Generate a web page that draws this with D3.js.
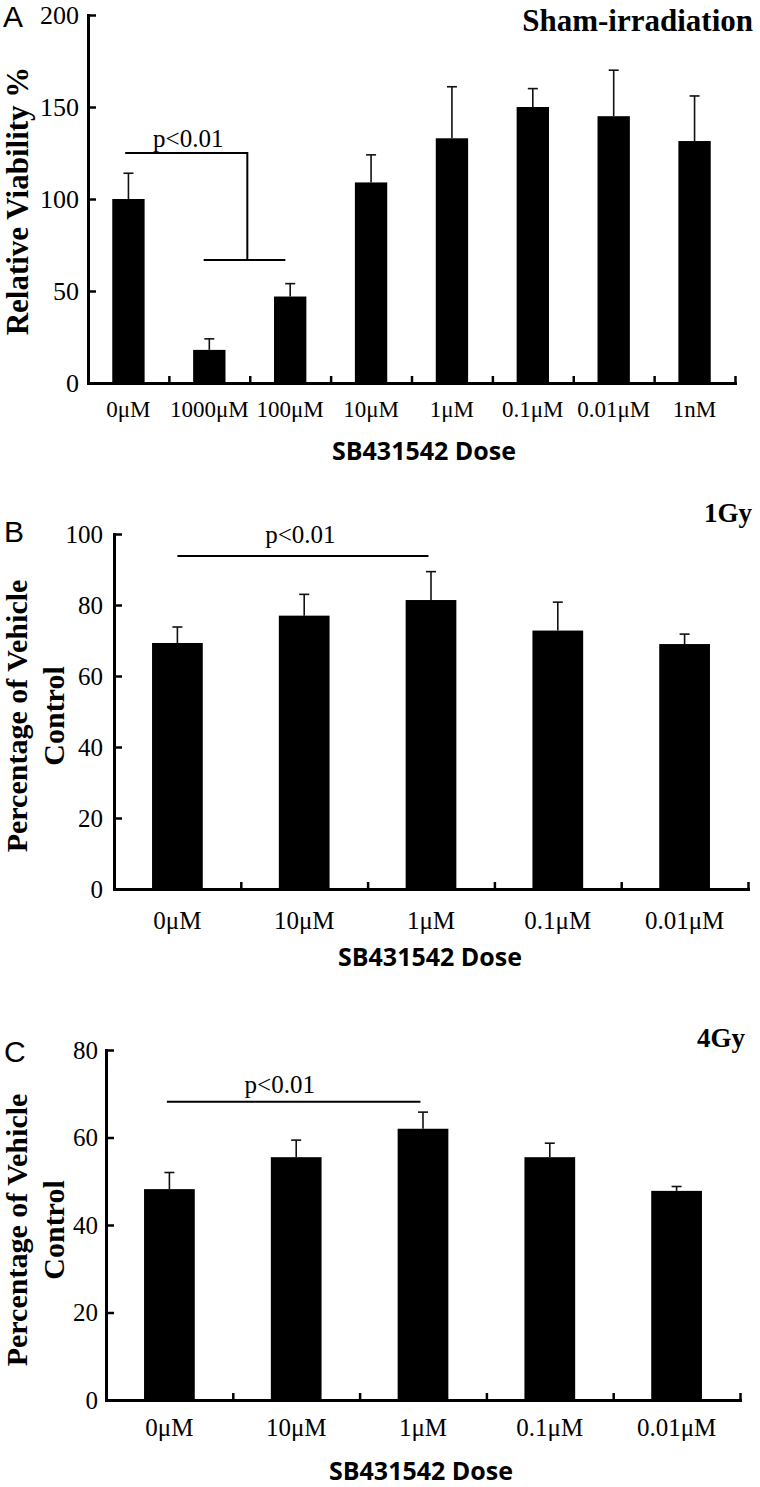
<!DOCTYPE html>
<html><head><meta charset="utf-8">
<script src="https://cdn.jsdelivr.net/npm/d3@7"></script>
<style>body{margin:0;background:#fff}</style>
</head><body>
<svg id="c" width="760" height="1487"></svg>
<script>
// ---------- data ----------
const catsA = ["0μM","1000μM","100μM","10μM","1μM","0.1μM","0.01μM","1nM"];
const valsA = [100, 18, 47, 109, 133, 150, 145, 131.5];
const errA  = [14, 6, 7, 15, 28, 10, 25, 24.5];
const ticksA = [0, 50, 100, 150, 200];

const catsBC = ["0μM","10μM","1μM","0.1μM","0.01μM"];
const valsB = [69.3, 77, 81.4, 72.8, 69];
const errB  = [4.5, 6, 8, 8, 2.8];
const ticksB = [0, 20, 40, 60, 80, 100];

const valsC = [48.2, 55.5, 62, 55.5, 47.8];
const errC  = [3.8, 3.9, 3.8, 3.2, 1.0];
const ticksC = [0, 20, 40, 60, 80];

// significance brackets: value levels and category-index positions
const sigA = {label:"p<0.01", top:125, low:66.8, topFrom:0.46, topTo:1.97, lowFrom:1.43, lowTo:2.44, textAt:1.24};
const sigB = {label:"p<0.01", top:93.8, from:0.5, to:2.48, textAt:1.47};
const sigC = {label:"p<0.01", top:68.2, from:0.48, to:2.48, textAt:1.37};

const SERIF = "'Liberation Serif','Times New Roman',Times,serif";
const SANS = "'Liberation Sans',Arial,sans-serif";
const XT = "'Open Sans','DejaVu Sans',sans-serif";

const svg = d3.select("#c");

function panel(o){
  const g = svg.append("g");
  const n = o.cats.length;
  const x = d3.scaleBand().domain(o.cats).range([o.left, o.right]).paddingInner(0.6).paddingOuter(0.3);
  const xi = d3.scaleLinear().domain([0, n]).range([o.left, o.right]);
  const y = d3.scaleLinear().domain([0, o.yMax]).range([o.bottom, o.top]);
  const bw = x.bandwidth();

  // bars
  g.selectAll("rect.bar").data(o.vals).join("rect")
    .attr("class","bar")
    .attr("x",(d,i)=>x(o.cats[i]))
    .attr("y",d=>y(d))
    .attr("width",bw)
    .attr("height",d=>y(0)-y(d))
    .attr("fill","#000");

  // error bars (upper only)
  const eb = g.append("g").attr("stroke","#111").attr("stroke-width",1.6);
  o.vals.forEach((v,i)=>{
    const cx = x(o.cats[i]) + bw/2;
    eb.append("line").attr("x1",cx).attr("x2",cx).attr("y1",y(v)).attr("y2",y(v+o.errs[i]));
    eb.append("line").attr("x1",cx-5).attr("x2",cx+5).attr("y1",y(v+o.errs[i])).attr("y2",y(v+o.errs[i]));
  });

  // y axis
  const ya = g.append("g").attr("transform",`translate(${o.left},0)`)
    .call(d3.axisLeft(y).tickValues(o.ticks).tickSizeInner(-8).tickSizeOuter(0).tickPadding(o.yPad));
  ya.attr("font-family",SERIF).attr("font-size",o.yFont);
  ya.select(".domain").attr("stroke","#000").attr("stroke-width",3).attr("stroke-linecap","square");
  ya.selectAll(".tick line").attr("stroke","#000").attr("stroke-width",2.5);
  ya.selectAll(".tick text").attr("font-family",SERIF).attr("font-size",o.yFont).attr("fill","#000");

  // x axis (boundary ticks pointing inward)
  const xa = g.append("g").attr("transform",`translate(0,${o.bottom})`)
    .call(d3.axisBottom(xi).tickValues(d3.range(1, n+1)).tickSizeInner(-7).tickSizeOuter(0).tickFormat(""));
  xa.select(".domain").attr("stroke","#000").attr("stroke-width",3).attr("stroke-linecap","square");
  xa.selectAll(".tick line").attr("stroke","#000").attr("stroke-width",2.5);

  // category labels
  g.selectAll("text.cat").data(o.cats).join("text")
    .attr("class","cat")
    .attr("x",d=>x(d)+bw/2)
    .attr("y",o.bottom + o.xOff)
    .attr("text-anchor","middle")
    .attr("font-family",SERIF).attr("font-size",o.xFont).attr("fill","#000")
    .text(d=>d);

  // x title
  g.append("text").attr("x",o.xTitleX).attr("y",o.xTitleY).attr("text-anchor","middle")
    .attr("font-family",XT).attr("font-weight","bold").attr("font-size",25).attr("fill","#000")
    .text("SB431542 Dose");

  // y title (lines)
  const yt = g.append("text").attr("transform",`translate(${o.yLabX},${o.yLabY}) rotate(-90)`)
    .attr("text-anchor","middle").attr("font-family",SERIF).attr("font-weight","bold")
    .attr("font-size",o.yLabFont).attr("fill","#000");
  o.yLab.forEach((t,i)=>{
    yt.append("tspan").attr("x",0).attr("y",i*o.yLabGap).text(t);
  });

  // panel letter
  g.append("text").attr("x",o.letterX).attr("y",o.letterY).attr("font-family",SANS)
    .attr("font-size",o.letterFont).attr("fill","#000").text(o.letter);

  // panel title
  g.append("text").attr("x",o.titleX).attr("y",o.titleY).attr("text-anchor","end")
    .attr("font-family",SERIF).attr("font-weight","bold").attr("font-size",o.titleFont).attr("fill","#000")
    .text(o.title);

  // significance
  const s = o.sig;
  const sg = g.append("g").attr("stroke","#000").attr("stroke-width",2).attr("fill","none");
  if (s.low !== undefined){
    sg.append("path").attr("d",
      `M${xi(s.topFrom)},${y(s.top)}H${xi(s.topTo)}V${y(s.low)}M${xi(s.lowFrom)},${y(s.low)}H${xi(s.lowTo)}`);
  } else {
    sg.append("line").attr("x1",xi(s.from)).attr("x2",xi(s.to)).attr("y1",y(s.top)).attr("y2",y(s.top));
  }
  g.append("text").attr("x",xi(s.textAt)).attr("y",y(s.top)-o.sigGap).attr("text-anchor","middle")
    .attr("font-family",SERIF).attr("font-size",o.sigFont).attr("fill","#000").text(s.label);
}

panel({cats:catsA, vals:valsA, errs:errA, ticks:ticksA, yMax:200,
  left:88, right:735, top:15, bottom:383,
  yPad:9, yFont:26, xOff:34, xFont:23, xTitleX:424, xTitleY:460,
  yLab:["Relative Viability %"], yLabX:28, yLabY:201, yLabFont:31, yLabGap:37,
  letter:"A", letterX:3, letterY:27, letterFont:30,
  title:"Sham-irradiation", titleX:753, titleY:31, titleFont:31,
  sig:sigA, sigGap:6, sigFont:25});

panel({cats:catsBC, vals:valsB, errs:errB, ticks:ticksB, yMax:100,
  left:114, right:748, top:534, bottom:889,
  yPad:11, yFont:25, xOff:40, xFont:25, xTitleX:430, xTitleY:966,
  yLab:["Percentage of Vehicle","Control"], yLabX:27, yLabY:716, yLabFont:30, yLabGap:37,
  letter:"B", letterX:4, letterY:542, letterFont:30,
  title:"1Gy", titleX:752, titleY:522, titleFont:27,
  sig:sigB, sigGap:13, sigFont:25});

panel({cats:catsBC, vals:valsC, errs:errC, ticks:ticksC, yMax:80,
  left:106, right:740, top:1050, bottom:1400,
  yPad:8, yFont:25, xOff:36, xFont:25, xTitleX:421, xTitleY:1480,
  yLab:["Percentage of Vehicle","Control"], yLabX:27, yLabY:1230, yLabFont:30, yLabGap:37,
  letter:"C", letterX:4, letterY:1062, letterFont:30,
  title:"4Gy", titleX:745, titleY:1047, titleFont:27,
  sig:sigC, sigGap:9, sigFont:25});
</script>
</body></html>
